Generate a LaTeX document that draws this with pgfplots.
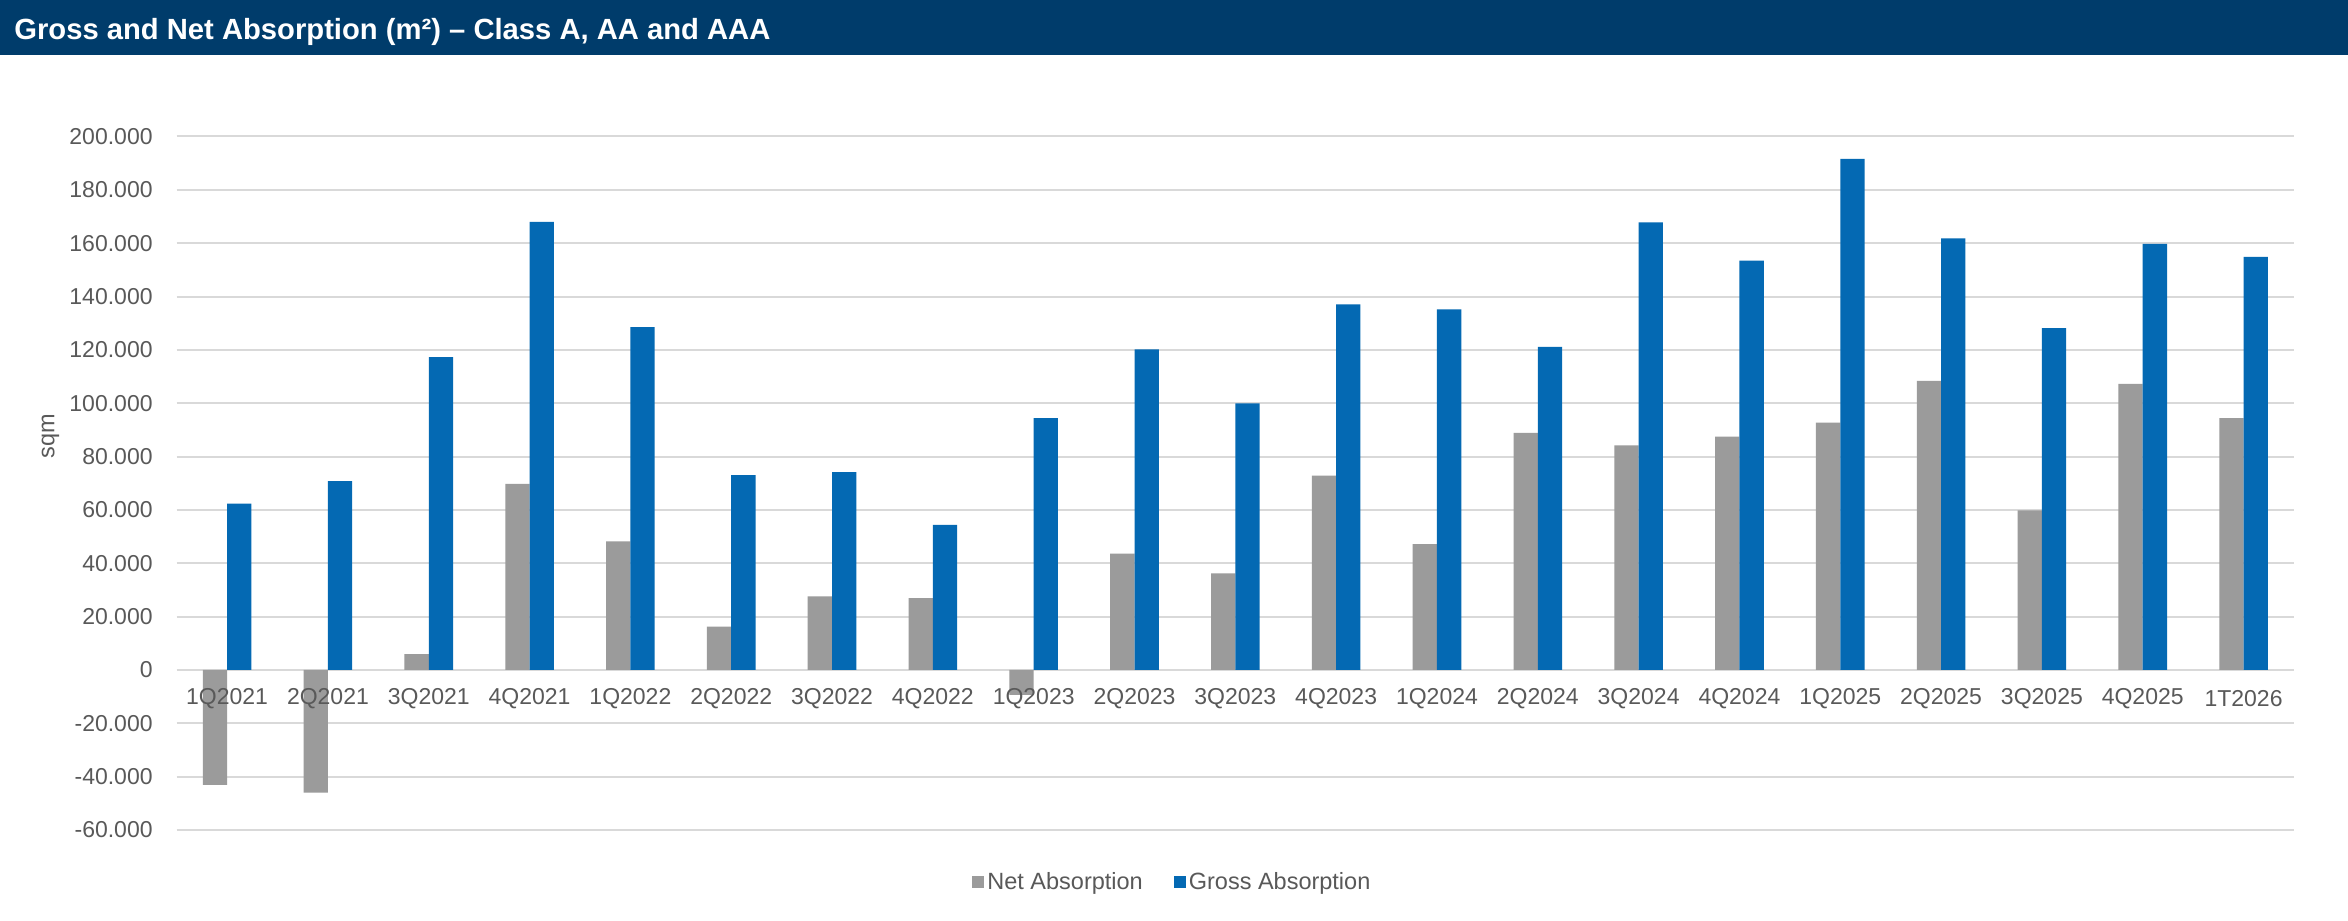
\documentclass[border=0pt]{standalone}
\usepackage{pgfplots}
\pgfplotsset{compat=1.18}
\usepackage{fontspec}
\setmainfont{Liberation Sans}
\definecolor{titlebar}{HTML}{003C6B}
\definecolor{grossblue}{HTML}{0469B3}
\definecolor{netgray}{HTML}{9B9B9B}
\definecolor{gridgray}{HTML}{D9D9D9}
\definecolor{txtgray}{HTML}{595959}
\pgfplotsset{
  baseaxis/.style={
    at={(88.35pt,45pt)}, anchor=south west,
    scale only axis, width=1058.65pt, height=346.75pt,
    xmin=-0.5, xmax=20.5, ymin=-60000, ymax=200000,
    scaled y ticks=false,
    axis line style={draw=none},
    major tick length=0pt,
    xtick={0,...,20},
    tick label style={font=\fontsize{11.5}{13}\selectfont, text=txtgray},
    xticklabel style={anchor=center, yshift=65.5pt},
  },
}
\begin{document}
\begin{tikzpicture}
\fill[white] (0,0) rectangle (1174pt,460pt);
\fill[titlebar] (0,432.25pt) rectangle (1174pt,460pt);
\node[anchor=base west, inner sep=0pt, text=white, font=\fontsize{14.6}{16}\selectfont\bfseries] at (7pt,440.3pt) {Gross and Net Absorption (m²) – Class A, AA and AAA};
\begin{axis}[
  baseaxis,
  ybar=0pt, bar width=12.15pt,
  ymajorgrids, grid style={gridgray, line width=1pt},
  xticklabels={},
  ytick={-60000,-40000,-20000,0,20000,40000,60000,80000,100000,120000,140000,160000,180000,200000},
  yticklabels={-60.000,-40.000,-20.000,0,20.000,40.000,60.000,80.000,100.000,120.000,140.000,160.000,180.000,200.000},
  yticklabel style={anchor=east, inner sep=0pt, xshift=-11.85pt},
  ylabel={sqm},
  ylabel style={at={(axis description cs:-0.0596,0.568)}, anchor=center, font=\fontsize{11.75}{13}\selectfont, text=txtgray},
  legend columns=2,
  legend style={at={(axis description cs:0.4705,-0.075)}, anchor=center, draw=none, fill=none,
    font=\fontsize{11.75}{13}\selectfont, text=txtgray,
    /tikz/every even column/.append style={column sep=14pt},
    nodes={inner sep=1.5pt}},
  legend image code/.code={\fill[#1] (0pt,-3pt) rectangle (6pt,3pt);},
]
\addplot[fill=netgray, draw=none] coordinates {
(0,-43100) (1,-46000) (2,5900) (3,69800) (4,48200) (5,16200) (6,27600) (7,26900) (8,-9300) (9,43600) (10,36200)
(11,72900) (12,47200) (13,88900) (14,84200) (15,87500) (16,92700) (17,108400) (18,59800) (19,107300) (20,94400)};
\addlegendentry{Net Absorption}
\addplot[fill=grossblue, draw=none] coordinates {
(0,62400) (1,70800) (2,117300) (3,168000) (4,128500) (5,73000) (6,74200) (7,54400) (8,94400) (9,120200) (10,99900)
(11,137100) (12,135200) (13,121100) (14,167800) (15,153500) (16,191600) (17,161800) (18,128200) (19,159700) (20,154900)};
\addlegendentry{Gross Absorption}
\end{axis}
\begin{axis}[
  baseaxis,
  ytick=\empty,
  xticklabels={1Q2021,2Q2021,3Q2021,4Q2021,1Q2022,2Q2022,3Q2022,4Q2022,1Q2023,2Q2023,3Q2023,4Q2023,1Q2024,2Q2024,3Q2024,4Q2024,1Q2025,2Q2025,3Q2025,4Q2025,1T2026},
]
\end{axis}
\pgfresetboundingbox
\useasboundingbox (0,0) rectangle (1174pt,460pt);
\end{tikzpicture}
\end{document}
